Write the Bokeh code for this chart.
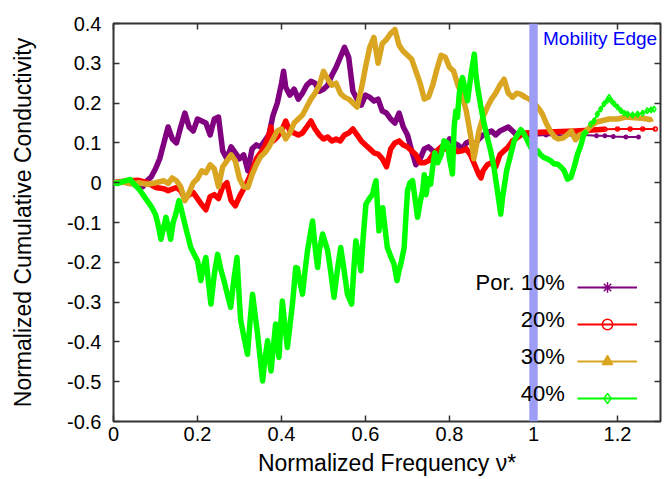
from bokeh.plotting import figure
from bokeh.models import (ColumnDataSource, FixedTicker, LinearAxis, BoxAnnotation,
                          Label, Legend, LegendItem, CustomJSTickFormatter, Range1d)
from bokeh.embed import file_html
from bokeh.resources import INLINE

# ---------------- data ----------------
purple_x = [0.00, 0.02, 0.04, 0.06, 0.07, 0.08, 0.09, 0.10, 0.11, 0.12,
            0.13, 0.14, 0.15, 0.16, 0.17, 0.18, 0.19, 0.20, 0.21, 0.22,
            0.23, 0.24, 0.25, 0.26, 0.27, 0.28, 0.29, 0.30, 0.31, 0.32,
            0.33, 0.34, 0.35, 0.36, 0.37, 0.38, 0.39, 0.40, 0.405, 0.41,
            0.42, 0.43, 0.44, 0.45, 0.46, 0.47, 0.48, 0.49, 0.50, 0.51,
            0.52, 0.53, 0.54, 0.55, 0.56, 0.57, 0.58, 0.59, 0.60, 0.61,
            0.62, 0.63, 0.64, 0.65, 0.66, 0.67, 0.68, 0.69, 0.70, 0.71,
            0.72, 0.73, 0.74, 0.75, 0.76, 0.77, 0.78, 0.79, 0.80, 0.81,
            0.82, 0.83, 0.84, 0.85, 0.86, 0.87, 0.88, 0.89, 0.90, 0.91,
            0.92, 0.93, 0.94, 0.95, 0.96, 0.97, 0.98, 1.00, 1.03, 1.06,
            1.09, 1.12, 1.15, 1.17, 1.19, 1.22, 1.25]
purple_y = [0.000, 0.002, 0.000, -0.008, -0.010, 0.005, 0.015, 0.035, 0.060, 0.100,
            0.140, 0.110, 0.100, 0.140, 0.175, 0.140, 0.130, 0.160, 0.155, 0.150,
            0.120, 0.160, 0.165, 0.080, 0.060, 0.090, 0.075, 0.060, 0.070, 0.030,
            0.085, 0.095, 0.090, 0.105, 0.120, 0.170, 0.200, 0.250, 0.280, 0.240,
            0.220, 0.235, 0.210, 0.225, 0.245, 0.255, 0.250, 0.230, 0.235, 0.245,
            0.270, 0.290, 0.315, 0.340, 0.315, 0.230, 0.210, 0.195, 0.220, 0.215,
            0.205, 0.210, 0.180, 0.175, 0.160, 0.150, 0.175, 0.140, 0.120, 0.080,
            0.045, 0.060, 0.085, 0.090, 0.080, 0.065, 0.080, 0.090, 0.110, 0.100,
            0.095, 0.085, 0.100, 0.105, 0.095, 0.110, 0.120, 0.125, 0.130, 0.120,
            0.130, 0.135, 0.140, 0.130, 0.120, 0.125, 0.120, 0.118, 0.120, 0.118,
            0.122, 0.120, 0.118, 0.118, 0.116, 0.115, 0.115]

red_x = [0.00, 0.02, 0.04, 0.06, 0.08, 0.10, 0.12, 0.13, 0.15, 0.16,
         0.17, 0.18, 0.19, 0.20, 0.21, 0.22, 0.23, 0.24, 0.25, 0.26,
         0.27, 0.28, 0.29, 0.30, 0.31, 0.32, 0.33, 0.34, 0.35, 0.36,
         0.37, 0.375, 0.38, 0.39, 0.40, 0.41, 0.42, 0.43, 0.44, 0.45,
         0.46, 0.47, 0.48, 0.49, 0.50, 0.51, 0.52, 0.53, 0.54, 0.55,
         0.56, 0.57, 0.58, 0.59, 0.60, 0.61, 0.62, 0.63, 0.64, 0.65,
         0.66, 0.67, 0.68, 0.69, 0.70, 0.71, 0.72, 0.73, 0.74, 0.75,
         0.76, 0.77, 0.78, 0.79, 0.80, 0.81, 0.82, 0.83, 0.84, 0.85,
         0.86, 0.87, 0.875, 0.88, 0.89, 0.90, 0.91, 0.92, 0.93, 0.94,
         0.95, 0.96, 0.97, 0.98, 1.00, 1.05, 1.10, 1.15, 1.17, 1.20,
         1.23, 1.26, 1.29]
red_y = [0.000, 0.003, 0.005, 0.006, 0.000, -0.012, -0.015, -0.020, -0.012, -0.020,
         -0.040, -0.030, -0.025, -0.040, -0.055, -0.068, -0.035, -0.030, -0.040, -0.010,
         0.000, -0.045, -0.058, -0.035, -0.015, 0.005, 0.030, 0.060, 0.075, 0.090,
         0.120, 0.140, 0.105, 0.115, 0.130, 0.155, 0.130, 0.125, 0.120, 0.125,
         0.140, 0.155, 0.135, 0.120, 0.110, 0.115, 0.105, 0.110, 0.105, 0.120,
         0.125, 0.135, 0.120, 0.105, 0.095, 0.085, 0.075, 0.072, 0.060, 0.040,
         0.085, 0.100, 0.105, 0.095, 0.090, 0.080, 0.070, 0.050, 0.050, 0.055,
         0.070, 0.080, 0.090, 0.085, 0.088, 0.085, 0.078, 0.080, 0.085, 0.070,
         0.045, 0.020, 0.012, 0.030, 0.045, 0.050, 0.040, 0.070, 0.080, 0.090,
         0.105, 0.112, 0.120, 0.125, 0.126, 0.128, 0.130, 0.133, 0.134, 0.135,
         0.135, 0.135, 0.135]

gold_x = [0.00, 0.02, 0.04, 0.06, 0.08, 0.10, 0.12, 0.13, 0.14, 0.15,
          0.16, 0.17, 0.18, 0.19, 0.20, 0.21, 0.22, 0.23, 0.24, 0.25,
          0.26, 0.27, 0.28, 0.29, 0.30, 0.31, 0.32, 0.33, 0.34, 0.35,
          0.36, 0.37, 0.38, 0.39, 0.40, 0.41, 0.42, 0.43, 0.44, 0.45,
          0.46, 0.47, 0.48, 0.49, 0.50, 0.51, 0.52, 0.53, 0.54, 0.55,
          0.56, 0.57, 0.58, 0.59, 0.60, 0.61, 0.62, 0.63, 0.64, 0.65,
          0.66, 0.67, 0.68, 0.69, 0.70, 0.71, 0.72, 0.73, 0.74, 0.75,
          0.76, 0.77, 0.78, 0.79, 0.80, 0.81, 0.82, 0.83, 0.84, 0.85,
          0.858, 0.865, 0.87, 0.88, 0.89, 0.90, 0.91, 0.92, 0.93, 0.94,
          0.95, 0.96, 0.97, 0.98, 0.99, 1.00, 1.01, 1.02, 1.03, 1.04,
          1.05, 1.06, 1.07, 1.08, 1.09, 1.10, 1.11, 1.12, 1.13, 1.14,
          1.15, 1.16, 1.18, 1.20, 1.22, 1.24, 1.26, 1.28]
gold_y = [0.000, 0.002, -0.003, 0.000, -0.004, 0.000, 0.005, -0.002, 0.012, 0.005,
          -0.010, -0.045, -0.025, 0.000, 0.010, 0.030, 0.025, 0.045, 0.035, -0.010,
          0.040, 0.055, 0.070, 0.055, 0.010, -0.010, -0.012, 0.020, 0.045, 0.065,
          0.075, 0.090, 0.110, 0.130, 0.135, 0.110, 0.125, 0.150, 0.160, 0.170,
          0.190, 0.210, 0.225, 0.245, 0.280, 0.260, 0.245, 0.250, 0.225, 0.215,
          0.210, 0.200, 0.190, 0.235, 0.290, 0.340, 0.365, 0.300, 0.350, 0.360,
          0.375, 0.385, 0.345, 0.330, 0.320, 0.310, 0.280, 0.250, 0.210, 0.215,
          0.245, 0.285, 0.320, 0.315, 0.290, 0.280, 0.245, 0.220, 0.180, 0.120,
          0.060, 0.100, 0.130, 0.165, 0.190, 0.210, 0.225, 0.245, 0.260, 0.225,
          0.215, 0.225, 0.222, 0.215, 0.210, 0.200, 0.190, 0.175, 0.150, 0.130,
          0.115, 0.110, 0.112, 0.120, 0.130, 0.108, 0.120, 0.125, 0.135, 0.145,
          0.152, 0.155, 0.160, 0.160, 0.165, 0.163, 0.162, 0.158]

green_x = [0.00, 0.01, 0.02, 0.03, 0.04, 0.05, 0.06, 0.07, 0.08, 0.09,
           0.10, 0.105, 0.113, 0.12, 0.125, 0.13, 0.136, 0.142, 0.148, 0.156,
           0.16, 0.168, 0.176, 0.184, 0.192, 0.20, 0.208, 0.214, 0.22, 0.226,
           0.232, 0.24, 0.248, 0.256, 0.263, 0.271, 0.279, 0.287, 0.294, 0.30,
           0.303, 0.311, 0.319, 0.325, 0.331, 0.337, 0.343, 0.349, 0.355, 0.361,
           0.367, 0.371, 0.375, 0.381, 0.386, 0.39, 0.394, 0.398, 0.402, 0.408,
           0.414, 0.42, 0.426, 0.43, 0.434, 0.438, 0.444, 0.45, 0.454, 0.458,
           0.462, 0.466, 0.47, 0.474, 0.478, 0.482, 0.486, 0.49, 0.498, 0.504,
           0.51, 0.518, 0.525, 0.533, 0.541, 0.549, 0.557, 0.567, 0.572, 0.577,
           0.583, 0.589, 0.595, 0.601, 0.609, 0.617, 0.621, 0.625, 0.632, 0.637,
           0.641, 0.646, 0.652, 0.66, 0.668, 0.675, 0.68, 0.684, 0.692, 0.696,
           0.70, 0.706, 0.712, 0.718, 0.724, 0.73, 0.736, 0.74, 0.744, 0.75,
           0.755, 0.76, 0.765, 0.772, 0.78, 0.787, 0.795, 0.80, 0.807, 0.811,
           0.815, 0.819, 0.823, 0.827, 0.831, 0.835, 0.843, 0.851, 0.859, 0.863,
           0.867, 0.875, 0.882, 0.89, 0.898, 0.906, 0.914, 0.922, 0.926, 0.93,
           0.936, 0.942, 0.948, 0.954, 0.962, 0.97, 0.976, 0.982, 0.988, 0.994,
           1.00, 1.01, 1.017, 1.025, 1.033, 1.041, 1.049, 1.057, 1.065, 1.073,
           1.081, 1.089, 1.097, 1.105, 1.113, 1.12, 1.128, 1.136, 1.144, 1.152,
           1.16, 1.168, 1.176, 1.18, 1.186, 1.192, 1.20, 1.208, 1.216, 1.224,
           1.236, 1.248, 1.26, 1.271, 1.28, 1.287]
green_y = [0.000, -0.002, 0.002, 0.005, 0.008, -0.005, -0.015, -0.030, -0.045, -0.060,
           -0.080, -0.100, -0.142, -0.110, -0.087, -0.110, -0.142, -0.100, -0.080, -0.045,
           -0.060, -0.096, -0.130, -0.163, -0.180, -0.196, -0.246, -0.210, -0.188, -0.250,
           -0.305, -0.230, -0.180, -0.220, -0.246, -0.280, -0.313, -0.240, -0.188, -0.300,
           -0.347, -0.390, -0.431, -0.350, -0.280, -0.330, -0.380, -0.440, -0.498, -0.440,
           -0.397, -0.440, -0.473, -0.410, -0.355, -0.400, -0.439, -0.360, -0.297, -0.360,
           -0.414, -0.360, -0.305, -0.260, -0.213, -0.215, -0.250, -0.280, -0.240, -0.205,
           -0.170, -0.146, -0.120, -0.096, -0.140, -0.180, -0.213, -0.170, -0.129, -0.150,
           -0.171, -0.230, -0.288, -0.220, -0.163, -0.220, -0.280, -0.305, -0.220, -0.146,
           -0.180, -0.221, -0.130, -0.054, -0.040, -0.029, -0.010, 0.005, -0.121, -0.080,
           -0.063, -0.110, -0.163, -0.185, -0.205, -0.246, -0.220, -0.205, -0.163, -0.090,
           -0.020, 0.000, 0.005, -0.040, -0.087, -0.050, -0.020, 0.020, -0.030, 0.010,
           -0.004, 0.040, 0.075, 0.050, 0.070, 0.105, 0.100, 0.060, 0.022, 0.139,
           0.180, 0.164, 0.220, 0.250, 0.264, 0.245, 0.206, 0.270, 0.323, 0.270,
           0.239, 0.189, 0.150, 0.114, 0.080, 0.038, -0.020, -0.079, -0.040, -0.012,
           0.030, 0.055, 0.080, 0.105, 0.120, 0.133, 0.125, 0.114, 0.100, 0.088,
           0.085, 0.080, 0.070, 0.063, 0.060, 0.055, 0.047, 0.047, 0.040, 0.030,
           0.009, 0.013, 0.040, 0.072, 0.095, 0.122, 0.130, 0.147, 0.155, 0.172,
           0.185, 0.198, 0.207, 0.214, 0.205, 0.198, 0.190, 0.181, 0.175, 0.172,
           0.170, 0.172, 0.175, 0.181, 0.183, 0.185]

series_labels = ["Por. 10%", "20%", "30%", "40%"]
x_ticks = [0.0, 0.2, 0.4, 0.6, 0.8, 1.0, 1.2]
y_ticks = [-0.6, -0.5, -0.4, -0.3, -0.2, -0.1, 0.0, 0.1, 0.2, 0.3, 0.4]
mobility_edge = 1.0
mobility_label = "Mobility Edge"

# ---------------- figure ----------------
FONT = "Liberation Sans"
p = figure(width=672, height=479, output_backend="svg", toolbar_location=None,
           x_range=Range1d(0, 547 / 420), y_range=Range1d(-0.6, 0.4),
           min_border_left=113, min_border_right=12, min_border_top=23,
           min_border_bottom=58)
p.grid.visible = False
p.background_fill_color = "white"
p.border_fill_color = "white"
p.outline_line_color = "#333333"
p.outline_line_width = 2

fmt = CustomJSTickFormatter(code="return tick.toFixed(1).replace(/\\.0$/, '');")

for ax in (p.xaxis[0], p.yaxis[0]):
    ax.axis_line_color = None
    ax.major_tick_in = 6
    ax.major_tick_out = 0
    ax.minor_tick_line_color = None
    ax.major_tick_line_color = "#333333"
    ax.major_tick_line_width = 1.5
    ax.major_label_text_font = FONT
    ax.major_label_text_font_size = "20px"
    ax.major_label_text_color = "black"
    ax.axis_label_text_font = FONT
    ax.axis_label_text_font_size = "23px"
    ax.axis_label_text_font_style = "normal"
    ax.axis_label_text_color = "black"
    ax.formatter = fmt

p.xaxis[0].ticker = FixedTicker(ticks=x_ticks)
p.yaxis[0].ticker = FixedTicker(ticks=y_ticks)
p.xaxis[0].axis_label = "Normalized Frequency \u03bd*"
p.yaxis[0].axis_label = "Normalized Cumulative Conductivity"
p.xaxis[0].major_label_standoff = 5
p.xaxis[0].axis_label_standoff = 6
p.yaxis[0].major_label_standoff = 12
p.yaxis[0].axis_label_standoff = 28

# mirrored tick marks on the top and right borders (no labels)
for loc, tk in (("above", x_ticks), ("right", y_ticks)):
    ax = LinearAxis(ticker=FixedTicker(ticks=tk), axis_line_color=None,
                    major_tick_in=6, major_tick_out=0, minor_tick_line_color=None,
                    major_tick_line_color="#333333", major_tick_line_width=1.5,
                    major_label_text_font_size="1px", major_label_text_color=None,
                    major_label_standoff=0)
    p.add_layout(ax, loc)

# ---------------- series ----------------
colors = ["#800080", "#ff0000", "#daa520", "#00ff00"]
markers = ["asterisk", "circle", "triangle", "diamond"]
main_cut = [1.0, 1.17, 2.0, 1.13]
tail_cut = [1.0, 1.17, 1.2, 1.13]
marker_sizes = [5, 4, 4, 6]
xs_all = [purple_x, red_x, gold_x, green_x]
ys_all = [purple_y, red_y, gold_y, green_y]

legend_items = []
for i in range(4):
    xs, ys = xs_all[i], ys_all[i]
    mx = [x for x in xs if x <= main_cut[i]]
    my = [y for x, y in zip(xs, ys) if x <= main_cut[i]]
    tx = [x for x in xs if x >= tail_cut[i]]
    ty = [y for x, y in zip(xs, ys) if x >= tail_cut[i]]
    tsrc = ColumnDataSource(dict(x=tx, y=ty))
    tl = p.line("x", "y", source=tsrc, line_color=colors[i], line_width=2)
    fill = colors[i] if markers[i] == "triangle" else None
    ts = p.scatter("x", "y", source=tsrc, marker=markers[i], size=marker_sizes[i],
                   line_color=colors[i], fill_color=fill, line_width=1.5)
    p.line(mx, my, line_color=colors[i], line_width=5.5, line_join="round")
    legend_items.append(LegendItem(label=" ", renderers=[tl, ts]))

legend = Legend(items=legend_items, location=(464, 10), orientation="vertical",
                glyph_width=60, glyph_height=26, spacing=11, padding=0, margin=0,
                label_standoff=0, label_width=0, label_height=0,
                label_text_font_size="8px", border_line_color=None,
                background_fill_alpha=0)
p.add_layout(legend)

# mobility edge band (drawn over the curves) and its label
p.add_layout(BoxAnnotation(left=mobility_edge - 0.01, right=mobility_edge + 0.01,
                           fill_color="#9d9df5", fill_alpha=1.0, line_color=None))
p.add_layout(Label(x=mobility_edge + 0.0227, y=0.3616, text=mobility_label,
                   text_align="left", text_baseline="middle", text_font=FONT,
                   text_font_size="19px", text_color="#0000ff"))

# legend texts, right-aligned to the left of the samples (drawn over the band)
legend_text_y = [-0.2515, -0.3445, -0.4374, -0.5304]
for name, yy in zip(series_labels, legend_text_y):
    p.add_layout(Label(x=1.0745, y=yy, text=name, text_align="right",
                       text_baseline="middle", text_font=FONT,
                       text_font_size="22px", text_color="black"))

open("out.html", "w").write(file_html(p, INLINE))
